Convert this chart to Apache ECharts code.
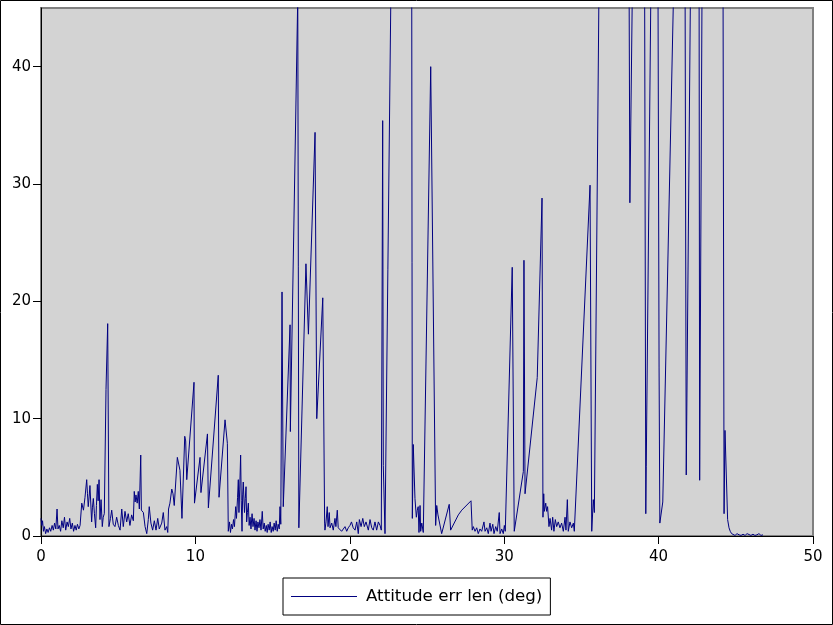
<!DOCTYPE html>
<html>
<head>
<meta charset="utf-8">
<script src="https://cdn.jsdelivr.net/npm/echarts@6/dist/echarts.min.js"></script>
<style>
html,body{margin:0;padding:0;background:#fff;}
#chart{width:833px;height:625px;}
</style>
</head>
<body>
<div id="chart"></div>
<script>
var seriesName = "Attitude err len (deg)";
var xTicks = [0, 10, 20, 30, 40, 50];
var yTicks = [0, 10, 20, 30, 40];

var timeX = [
0.00,0.05,0.10,0.16,0.22,0.30,0.38,0.46,0.55,0.63,0.72,0.80,0.88,0.96,1.04,1.10,1.18,1.27,1.35,1.44,1.52,1.60,1.69,1.77,1.86,1.94,2.03,2.11,2.20,2.28,2.36,2.45,2.53,
2.64,2.75,2.85,2.96,3.01,3.06,3.12,3.17,3.28,3.33,3.39,3.46,3.54,3.59,3.65,3.70,3.76,3.82,3.89,3.97,4.03,4.10,4.21,4.32,4.40,
4.50,4.58,4.68,4.79,4.90,5.01,5.12,5.23,5.33,5.44,5.55,5.65,5.76,5.87,5.98,6.04,6.10,6.15,6.23,6.30,6.37,6.46,6.50,6.63,6.74,6.85,6.95,7.01,7.12,7.23,7.34,7.45,7.56,7.66,7.82,7.92,8.03,8.14,8.21,
8.26,8.35,8.47,8.55,8.63,8.83,9.00,9.13,9.31,9.37,9.44,9.91,9.94,10.30,10.36,10.78,10.84,11.48,11.53,11.92,12.07,12.13,
12.21,12.27,12.34,12.40,12.47,12.53,12.61,12.66,12.73,12.78,12.82,12.87,12.93,12.97,13.02,13.06,13.10,13.18,13.23,13.28,13.32,13.37,13.43,13.48,13.54,13.60,13.67,13.73,13.80,13.86,13.93,13.99,14.05,14.12,14.18,14.25,14.33,14.39,14.46,14.52,14.59,14.65,14.71,14.78,14.84,14.91,14.97,15.04,15.10,15.17,15.23,15.30,15.36,15.43,15.48,15.53,
15.61,15.69,16.13,16.15,16.63,16.70,17.16,17.32,17.75,17.86,18.25,18.37,
18.39,18.46,18.54,18.59,18.67,18.72,18.83,18.93,19.04,19.10,19.19,19.25,19.36,19.47,19.57,19.69,19.80,19.90,20.01,20.11,20.22,20.34,20.45,20.55,20.62,20.73,20.84,20.94,21.05,21.20,21.31,21.42,21.52,21.63,21.74,21.85,21.96,22.04,
22.13,22.17,22.28,22.70,24.00,24.05,24.11,24.22,24.31,24.37,24.43,24.48,24.55,24.59,24.66,24.76,24.84,25.24,25.56,25.63,25.71,25.95,26.44,26.53,27.03,27.25,27.85,27.93,
28.00,28.11,28.22,28.32,28.43,28.54,28.69,28.76,28.87,28.97,29.08,29.15,29.26,29.34,29.45,29.55,29.68,29.73,29.84,29.94,30.01,30.07,
30.52,30.65,31.24,31.28,31.35,32.14,32.45,32.51,32.56,32.60,32.69,32.75,32.81,32.90,32.97,33.07,33.14,33.22,33.31,33.40,33.50,33.61,33.72,33.83,33.94,34.00,34.09,34.15,34.26,34.37,34.48,34.54,
35.56,35.67,35.77,35.84,36.20,38.08,38.14,38.33,39.09,39.17,39.20,39.54,39.95,40.03,40.08,40.27,41.06,41.71,41.79,42.10,42.62,42.66,42.84,44.17,44.24,44.30,44.47,44.56,44.64,44.73,
44.82,44.95,45.08,45.21,45.34,45.47,45.60,45.73,45.85,45.98,46.11,46.24,46.37,46.50,46.63,46.76
];

var errDeg = [
1.5,0.9,1.3,0.4,0.8,0.2,0.6,0.3,0.7,0.4,0.9,0.5,1.1,0.6,2.3,0.6,0.9,0.4,1.3,0.7,1.6,0.5,1.2,0.8,1.5,0.6,1.1,0.4,0.9,0.5,1.0,0.6,0.9,
2.8,2.2,3.3,4.8,3.6,2.5,3.4,4.3,1.2,2.4,3.2,1.9,0.7,2.6,4.4,3.0,4.8,1.4,3.1,0.8,1.6,1.9,12.5,18.1,0.8,
1.5,2.2,1.0,0.8,1.6,0.9,0.5,2.3,0.8,2.1,1.2,1.9,0.9,1.8,1.3,3.8,2.9,3.5,2.8,3.8,2.3,6.9,2.2,2.0,0.8,0.2,1.4,2.5,1.1,0.5,1.3,0.5,1.5,0.6,1.1,2.0,0.5,0.8,0.3,
2.3,2.8,4.0,3.6,2.6,6.7,5.6,1.5,8.5,8.1,4.8,13.1,2.8,6.7,3.7,8.7,2.4,13.7,3.3,9.9,7.9,0.4,
1.2,0.3,1.0,0.6,1.4,0.8,2.5,1.5,3.3,4.8,2.0,4.0,6.9,3.0,0.4,3.5,4.6,2.0,3.2,4.2,1.2,2.0,2.8,0.9,1.6,0.6,1.9,0.8,1.5,0.5,1.3,0.4,1.2,0.7,1.4,0.5,2.1,0.6,1.1,0.4,0.9,0.3,1.0,0.5,1.2,0.3,0.8,0.4,1.1,0.5,1.3,0.4,1.0,0.6,2.5,1.0,
20.8,2.5,18.0,8.9,46.0,0.7,23.2,17.2,34.4,10.0,20.3,1.1,
0.5,1.2,2.5,0.8,2.0,0.7,1.1,0.5,1.5,0.8,2.2,0.7,0.8,0.4,0.3,0.8,0.4,0.7,0.9,1.2,0.7,0.5,1.2,0.2,1.4,0.8,1.5,0.8,1.2,0.5,1.4,0.7,0.5,1.2,0.5,1.2,0.9,0.5,
35.4,6.0,0.2,51,60,1.5,7.8,3.2,1.6,2.2,2.5,0.3,2.6,0.4,1.1,0.3,0.3,40.0,0.9,2.6,1.8,0.2,2.7,0.5,1.8,2.2,3.0,0.5,
0.8,0.4,0.7,0.2,0.6,0.4,1.2,0.4,0.7,0.2,1.1,0.4,1.0,0.2,0.8,0.4,2.0,0.2,0.6,0.2,0.9,0.4,
22.9,0.4,5.5,23.5,3.6,13.5,28.8,1.6,3.6,2.1,2.8,2.1,2.5,0.8,1.5,0.5,1.6,0.4,1.4,0.8,1.2,0.7,1.1,0.4,1.6,0.5,3.1,0.4,1.2,0.7,1.1,0.4,
29.9,0.4,3.1,2.0,56,50,28.4,50,50,1.9,5.9,52,52,14.4,1.1,2.9,52,50,5.2,52,50,4.75,54,50,1.9,9.0,1.4,0.7,0.4,0.2,
0.15,0.05,0.2,0.1,0.05,0.15,0.05,0.2,0.1,0.05,0.15,0.05,0.1,0.2,0.05,0.1
];

var FONT = "DejaVu Sans";
var points = timeX.map(function (x, i) { return [x, errDeg[i]]; });

var chart = echarts.init(document.getElementById('chart'), null, {renderer: 'canvas'});
chart.setOption({
  animation: false,
  backgroundColor: '#ffffff',
  grid: {
    left: 41, top: 8, right: 20, bottom: 89,
    show: true, backgroundColor: '#d3d3d3', borderColor: '#808080', borderWidth: 2,
    containLabel: false
  },
  xAxis: {
    type: 'value', min: xTicks[0], max: xTicks[xTicks.length - 1], interval: 10,
    axisLine: {show: true, onZero: false, lineStyle: {color: '#000', width: 1}},
    axisTick: {show: true, length: 8, lineStyle: {color: '#000', width: 1}},
    axisLabel: {color: '#000', fontSize: 15, fontFamily: FONT, margin: 14},
    splitLine: {show: false}
  },
  yAxis: {
    type: 'value', min: 0, max: 45, interval: 10,
    axisLine: {show: true, onZero: false, lineStyle: {color: '#000', width: 1}},
    axisTick: {show: true, length: 8, customValues: yTicks, lineStyle: {color: '#000', width: 1}},
    axisLabel: {color: '#000', fontSize: 15, fontFamily: FONT, margin: 10, customValues: yTicks},
    splitLine: {show: false}
  },
  legend: {
    left: 283, top: 578,
    padding: [10, 8, 10, 8],
    borderColor: '#000', borderWidth: 1, borderRadius: 0, backgroundColor: '#fff',
    itemWidth: 66, itemHeight: 1, icon: 'rect',
    textStyle: {color: '#000', fontSize: 16.7, fontFamily: FONT, padding: [0, 0, 0, 4]},
    data: [seriesName]
  },
  series: [{
    name: seriesName,
    type: 'line',
    data: points,
    showSymbol: false,
    symbol: 'none',
    clip: true,
    lineStyle: {color: '#000080', width: 1},
    itemStyle: {color: '#000080'}
  }],
  graphic: [{
    type: 'rect', z: 100, silent: true,
    shape: {x: 0.5, y: 0.5, width: 832, height: 624},
    style: {fill: 'none', stroke: '#000', lineWidth: 1}
  }]
});
</script>
</body>
</html>
